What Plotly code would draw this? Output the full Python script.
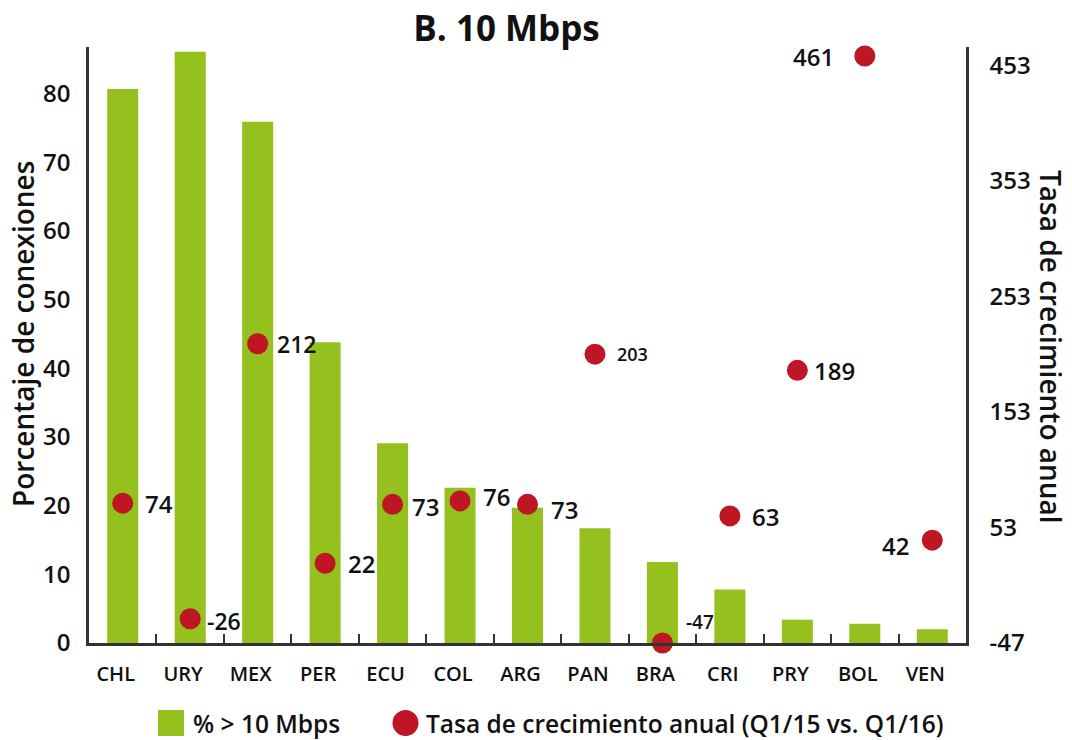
import plotly.graph_objects as go

# Countries and the two series
countries = ["CHL", "URY", "MEX", "PER", "ECU", "COL", "ARG", "PAN", "BRA", "CRI", "PRY", "BOL", "VEN"]
share_over_10 = [80.7, 86.1, 75.9, 43.8, 29.1, 22.6, 19.7, 16.7, 11.8, 7.8, 3.4, 2.8, 2.0]
growth_rate = [74, -26, 212, 22, 73, 76, 73, 203, -47, 63, 189, 461, 42]

left_ticks = [0, 10, 20, 30, 40, 50, 60, 70, 80]
right_ticks = [-47, 53, 153, 253, 353, 453]

GREEN = "#95C11F"
RED = "#BE1622"
INK = "#111111"
AXIS = "#333333"
FONT = "Open Sans"

# Placement of the value label next to each dot (pixels from the dot centre)
label_dx = [20, 15, 17, 21, 17, 21, 21, 20, 22, 20, 15, -29, -21]
label_dy = [0, -2, 0, 0, -2, 4, -5, 0, 21, -1, 0, 0, -5]
label_size = [24, 23, 23, 24, 24, 24, 24, 18, 19, 24, 24, 24, 24]

# Plot-area geometry (pixels)
L, R, T, B = 89, 106, 47, 97
W, H = 1072 - L - R, 740 - T - B


def px_x(px):
    return (px - L) / W


def px_y(py):
    return (740 - B - py) / H


fig = go.Figure()

fig.add_trace(go.Bar(
    x=countries, y=share_over_10,
    marker=dict(color=GREEN, line=dict(width=0)),
    name="% > 10 Mbps", showlegend=False, yaxis="y",
))

fig.add_trace(go.Scatter(
    x=countries, y=growth_rate, yaxis="y2",
    mode="markers",
    marker=dict(color=RED, size=21, line=dict(width=0)),
    cliponaxis=False,
    name="Tasa de crecimiento anual (Q1/15 vs. Q1/16)", showlegend=False,
))

for c, v, dx, dy, s in zip(countries, growth_rate, label_dx, label_dy, label_size):
    fig.add_annotation(
        x=c, y=v, xref="x", yref="y2", text=str(v), showarrow=False,
        xanchor="left" if dx > 0 else "right", yanchor="middle",
        xshift=dx, yshift=dy,
        font=dict(family=FONT, size=s, color=INK, weight=600),
    )

tick_font = dict(family=FONT, size=24, color=INK, weight=600)

fig.update_layout(
    width=1072, height=740,
    margin=dict(l=L, r=R, t=T, b=B),
    paper_bgcolor="white", plot_bgcolor="white",
    bargap=0.54,
    showlegend=False,
    title=dict(text="B. 10 Mbps", x=506.5 / 1072, xref="container", xanchor="center",
               y=1 - 29 / 740, yref="container", yanchor="middle",
               font=dict(family=FONT, size=35, color=INK, weight=700)),
    xaxis=dict(
        type="category", showline=True, linecolor=AXIS, linewidth=2.5,
        ticks="inside", tickson="boundaries", ticklen=9, tickwidth=2, tickcolor=AXIS,
        tickfont=dict(family=FONT, size=20, color=INK, weight=600),
        showgrid=False, zeroline=False, range=[-0.5, 12.5],
        ticklabelstandoff=11, ticklabelshift=-7,
    ),
    yaxis=dict(
        range=[0, 86.8], tickvals=left_ticks, showgrid=False, zeroline=False,
        showline=True, linecolor=AXIS, linewidth=2.5, ticks="",
        tickfont=tick_font, ticklabelstandoff=11,
    ),
    yaxis2=dict(
        range=[-47, 468.8], tickvals=right_ticks, ticktext=[str(t) for t in right_ticks],
        overlaying="y", side="right",
        showgrid=False, zeroline=False, showline=True, linecolor=AXIS, linewidth=2.5,
        ticks="", tickfont=tick_font, ticklabelstandoff=16,
    ),
)

# Axis titles
fig.add_annotation(text="Porcentaje de conexiones", xref="paper", yref="paper",
                   x=px_x(23), y=px_y(334), xanchor="center", yanchor="middle",
                   textangle=-90, showarrow=False,
                   font=dict(family=FONT, size=28, color=INK, weight=600))
fig.add_annotation(text="Tasa de crecimiento anual", xref="paper", yref="paper",
                   x=px_x(1051), y=px_y(347), xanchor="center", yanchor="middle",
                   textangle=90, showarrow=False,
                   font=dict(family=FONT, size=28, color=INK, weight=600))

# Legend row drawn beneath the axis
legend_y = px_y(723)
fig.add_shape(type="rect", xref="paper", yref="paper",
              xsizemode="pixel", ysizemode="pixel",
              xanchor=px_x(171), yanchor=legend_y, x0=-13, x1=13, y0=-13, y1=13,
              fillcolor=GREEN, line=dict(width=0))
fig.add_shape(type="circle", xref="paper", yref="paper",
              xsizemode="pixel", ysizemode="pixel",
              xanchor=px_x(405.5), yanchor=legend_y, x0=-13, x1=13, y0=-13, y1=13,
              fillcolor=RED, line=dict(width=0))
fig.add_annotation(text="% > 10 Mbps", xref="paper", yref="paper",
                   x=px_x(191), y=legend_y, xanchor="left", yanchor="middle", showarrow=False,
                   font=dict(family=FONT, size=24.5, color=INK, weight=600))
fig.add_annotation(text="Tasa de crecimiento anual (Q1/15 vs. Q1/16)", xref="paper", yref="paper",
                   x=px_x(424), y=legend_y, xanchor="left", yanchor="middle", showarrow=False,
                   font=dict(family=FONT, size=24.5, color=INK, weight=600))

fig.write_html("out.html")
